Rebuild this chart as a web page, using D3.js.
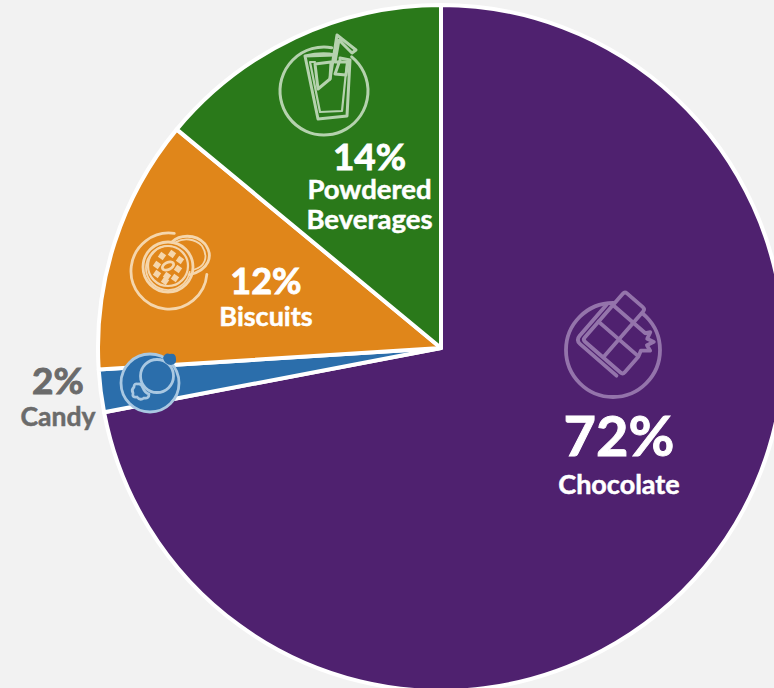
<!DOCTYPE html>
<html>
<head>
<meta charset="utf-8">
<script src="https://cdn.jsdelivr.net/npm/d3@7"></script>
<style>
html,body{margin:0;padding:0;background:#f2f2f2;overflow:hidden}
svg{display:block}
text{font-family:Lato,"Open Sans",sans-serif;font-weight:700;text-anchor:middle}
</style>
</head>
<body>
<svg id="chart" width="774" height="688"></svg>
<script>
// Sales share by confectionery category, clockwise from twelve o'clock
const categories = ["Chocolate", "Candy", "Biscuits", "Powdered Beverages"];
const shares = [72, 2, 12, 14];
const sliceColors = ["#4f216f", "#2b6eab", "#e0861a", "#2a791a"];
const iconColors = ["#9474ab", "#a9c8e2", "#f5d6ac", "#b5d2ae"];
const labelColors = ["#ffffff", "#6b6b6b", "#ffffff", "#ffffff"];
const valueLabels = ["72%", "2%", "12%", "14%"];
const nameLines = [["Chocolate"], ["Candy"], ["Biscuits"], ["Powdered", "Beverages"]];

const W = 774, H = 688, cx = 441, cy = 348, radius = 343;
const svg = d3.select("#chart");

const pie = d3.pie().value(d => d).sort(null);
const arc = d3.arc().innerRadius(0).outerRadius(radius);

svg.append("g").attr("transform", `translate(${cx},${cy})`)
  .selectAll("path").data(pie(shares)).join("path")
  .attr("d", arc)
  .attr("fill", (d, i) => sliceColors[i])
  .attr("stroke", "#ffffff").attr("stroke-width", 4).attr("stroke-linejoin", "round");

const deg = Math.PI / 180;
// Open ring running clockwise between two compass bearings
const ring = (r, from, to) => d3.arc().innerRadius(r).outerRadius(r).startAngle(from * deg).endAngle(to * deg)();

// Line icons, each in a local frame centred on its ring
const iconDraw = {
  Chocolate(g) {
    g.append("circle").attr("r", 47);
    const bar = g.append("g").attr("transform", "translate(7,-15) rotate(41)");
    bar.append("path").attr("fill", sliceColors[0]).attr("d",
      "M-25,-33 q0,-3 3,-3 H-1 q3,0 3,3 V-18 H18 l3,-4 l2,7 l7,-2 l-3,7 l6,2 l-7,6 l2,6 v21 q0,3 -3,3 H-22 q-3,0 -3,-3 z");
    bar.append("path").attr("d", "M-25,-18 H2 M-25,4 H26 M2,-18 V27");
    bar.append("path").attr("d", "M-30,-14 V27 q0,6 6,6 H24");
  },
  Candy(g) {
    g.append("circle").attr("r", 29).attr("fill", sliceColors[1]);
    g.append("circle").attr("cx", 7).attr("cy", -7).attr("r", 16.5);
    g.append("path").attr("fill", sliceColors[1])
      .attr("d", "M-12,1 q-4,-1 -4,3 q-3,3 -1,6 q-1,5 4,4 q3,4 7,1 q5,1 5,-4 q-4,-1 -6,-6 q-2,-5 -5,-4 z");
    g.append("path").attr("d", "M13,-25 q2,-6 7,-4 q6,-1 6,5 q1,5 -5,6 q-6,0 -8,-7 z")
      .attr("fill", sliceColors[1]).attr("stroke", "none");
  },
  Biscuits(g) {
    g.append("path").attr("d", ring(38, 95, 368));
    g.append("circle").attr("cx", -1).attr("cy", -4).attr("r", 25);
    g.append("path").attr("d", ring(22, 100, 370)).attr("transform", "translate(-1,-3)").attr("stroke-width", 1.8);
    g.append("circle").attr("cx", -1).attr("cy", -5).attr("r", 20).attr("stroke-width", 2.2);
    g.append("path").attr("d", "M3,-29 C10,-36 26,-38 36,-27 C45,-15 40,-1 20,4");
    g.append("path").attr("d", "M7,-29 C14,-33 26,-33 33,-25 C40,-14 36,-4 24,-1").attr("stroke-width", 1.8);
    g.append("ellipse").attr("cx", -1).attr("cy", -5).attr("rx", 6).attr("ry", 3.5).attr("transform", "rotate(-25 -1 -5)");
    const crumbs = [[-7,-15],[3,-17],[11,-11],[-12,-6],[9,-2],[-12,3],[-2,5],[-4,10],[6,7]];
    crumbs.forEach(c => g.append("rect")
      .attr("x", c[0] - 3).attr("y", c[1] - 3).attr("width", 6).attr("height", 6)
      .attr("fill", "currentColor").attr("stroke", "none")
      .attr("transform", `rotate(35 ${c[0]} ${c[1]})`));
  },
  "Powdered Beverages"(g) {
    g.append("path").attr("d", ring(44, 39, 370));
    g.append("path").attr("d", "M-19,-35 L-6,28 L23,25 L26,-31 L16,-33 M11,-36 C2,-38 -10,-37 -19,-35 z");
    g.append("path").attr("d", "M-14,-29 L-4,21 L18,20 L23,-29 M-14,-29 L-9,-29").attr("stroke-width", 2.2);
    g.append("path").attr("d", "M-9,-27 L7,-29 L6,-12 L-6,-2 z");
    g.append("path").attr("d", "M6,-12 L13,-56 L32,-41 L28,-38 L15,-51 L11,-29 L24,-29 L22,-16 L11,-17 L16,-31");
  }
};

const iconSpots = [
  { x: 613, y: 350, w: 3.8 },
  { x: 150, y: 383, w: 2.8 },
  { x: 169, y: 271, w: 2.8 },
  { x: 324, y: 91, w: 3 }
];

categories.forEach((name, i) => {
  const s = iconSpots[i];
  const g = svg.append("g").attr("transform", `translate(${s.x},${s.y})`)
    .style("color", iconColors[i])
    .attr("fill", "none").attr("stroke", iconColors[i])
    .attr("stroke-width", s.w).attr("stroke-linejoin", "round").attr("stroke-linecap", "round");
  iconDraw[name](g);
});

// Value and name labels
const labelSpots = [
  { x: 619, y: 456, vs: 56, ns: 27, line: 29, gap: 38 },
  { x: 58, y: 394, vs: 37, ns: 26.5, line: 29, gap: 32 },
  { x: 266, y: 294, vs: 36, ns: 27, line: 29, gap: 32 },
  { x: 369.5, y: 170, vs: 37, ns: 27.5, line: 30, gap: 29 }
];

categories.forEach((name, i) => {
  const s = labelSpots[i];
  const color = labelColors[i];
  svg.append("text").attr("x", s.x).attr("y", s.y)
    .attr("fill", color).attr("stroke", color).attr("stroke-width", 0.9)
    .attr("font-size", s.vs).text(valueLabels[i]);
  nameLines[i].forEach((ln, k) => {
    svg.append("text").attr("x", s.x).attr("y", s.y + s.gap + k * s.line)
      .attr("fill", color).attr("stroke", color).attr("stroke-width", 0.5)
      .attr("font-size", s.ns).text(ln);
  });
});
</script>
</body>
</html>
